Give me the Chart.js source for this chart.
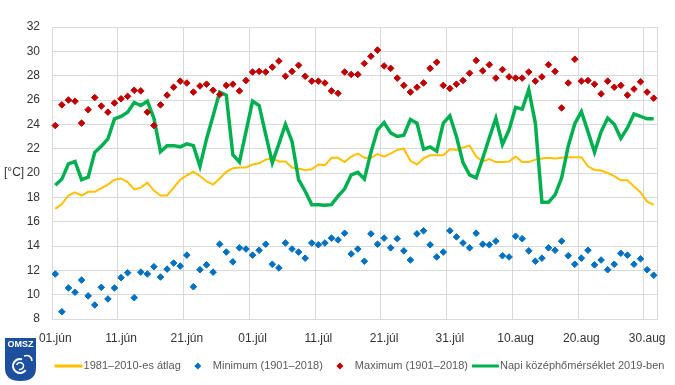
<!DOCTYPE html>
<html>
<head>
<meta charset="utf-8">
<script src="https://cdn.jsdelivr.net/npm/chart.js@4"></script>
<style>
  body { margin: 0; background: #fff; }
</style>
</head>
<body>
<canvas id="chart" width="675" height="385"></canvas>
<script>
// Days June 1 - Aug 31
const months = [['jún', 30], ['júl', 31], ['aug', 31]];
const days = [];
months.forEach(m => {
    for (let d = 1; d <= m[1]; d++) {
        days.push((d < 10 ? '0' + d : '' + d) + '.' + m[0]);
    }
});

// 1981-2010 average
const avgTemp = [17.05, 17.45, 18.15, 18.4, 18.15, 18.45, 18.45, 18.75, 19.05, 19.45,
    19.55, 19.25, 18.65, 18.8, 19.2, 18.55, 18.15, 18.15, 18.8, 19.45,
    19.8, 20.1, 19.75, 19.3, 19.05, 19.55, 20.1,
    20.4, 20.45, 20.45, 20.7, 20.8, 21.1, 21.2, 20.95, 20.95, 20.45,
    20.35, 20.25, 20.3, 20.7, 20.65, 21.25, 21.25, 20.9, 21.35, 21.6,
    21.25, 21.25, 21.55, 21.35, 21.6, 21.9, 22.0, 21.0, 20.7, 21.2,
    21.45, 21.45, 21.45, 21.95,
    21.9, 22.1, 22.25, 21.35, 20.95, 21.15, 20.9, 20.9, 20.95, 21.35,
    20.9, 20.9, 21.1, 21.2, 21.25, 21.2, 21.25, 21.3, 21.3, 21.3,
    20.55, 20.25, 20.2, 20.0, 19.75, 19.4, 19.4, 18.9, 18.4, 17.65, 17.4];

// Minimum 1901-2018
const minTemp = [11.7, 8.6, 10.55, 10.2, 11.2, 9.9, 9.15, 10.6, 9.65, 10.55,
    11.4, 11.8, 9.75, 11.85, 11.7, 12.3, 11.45, 12.1, 12.6, 12.35,
    13.25, 10.65, 12.05, 12.45, 11.85, 14.15, 13.5,
    12.7, 13.85, 13.75, 13.25, 13.65, 14.15, 12.5, 12.2, 14.25, 13.75,
    13.5, 13.0, 14.25, 14.1, 14.25, 14.65, 14.5, 15.05, 13.35, 13.75,
    12.75, 15.0, 14.15, 14.65, 13.85, 14.6, 13.6, 12.85, 15.0, 15.25,
    14.1, 13.1, 13.5, 15.25,
    14.75, 14.25, 13.85, 15.05, 14.15, 14.1, 14.4, 13.2, 13.1, 14.8,
    14.6, 13.6, 12.75, 13.0, 13.85, 13.65, 14.4, 13.2, 12.5, 13.0,
    13.65, 12.45, 12.85, 12.05, 12.5, 13.4, 13.25, 12.5, 12.95, 12.05, 11.6];

// Maximum 1901-2018
const maxTemp = [23.9, 25.6, 26.0, 25.9, 24.1, 25.2, 26.2, 25.5, 25.0, 25.75,
    26.1, 26.3, 26.8, 26.75, 25.0, 23.9, 25.6, 26.4, 27.05, 27.55,
    27.4, 26.65, 27.15, 27.3, 26.8, 26.45, 27.2,
    27.3, 26.75, 27.6, 28.3, 28.35, 28.3, 28.7, 29.2, 27.95, 28.35,
    28.85, 27.95, 27.55, 27.55, 27.4, 26.75, 26.55, 28.3, 28.1, 28.1,
    29.0, 29.6, 30.1, 28.8, 28.6, 27.8, 27.2, 26.65, 27.05, 27.4,
    28.6, 29.1, 27.2, 26.95,
    27.3, 27.6, 28.2, 29.25, 28.4, 28.9, 27.8, 28.5, 27.9, 27.8,
    27.8, 28.3, 27.55, 27.9, 28.9, 28.35, 25.35, 27.4, 29.35, 27.55,
    27.6, 27.3, 26.5, 27.55, 27.05, 27.2, 26.4, 26.9, 27.5, 26.65, 26.15];

// Daily mean 2019
const daily2019 = [19.0, 19.5, 20.75, 20.95, 19.45, 19.65, 21.7, 22.2, 22.8, 24.45,
    24.65, 25.0, 25.8, 25.55, 25.9, 24.5, 21.75, 22.25, 22.25, 22.15,
    22.4, 22.25, 20.55, 22.8, 24.7, 26.65, 26.4,
    21.5, 20.9, 23.4, 25.9, 25.55, 23.15, 20.85, 22.4, 24.0, 22.6,
    19.45, 18.5, 17.4, 17.4, 17.35, 17.4, 18.1, 18.7, 19.85, 20.05,
    19.5, 21.7, 23.55, 24.15, 23.3, 23.0, 23.1, 24.4, 24.1, 21.95,
    22.15, 21.8, 24.1, 24.7,
    23.0, 20.85, 19.85, 19.6, 21.2, 22.9, 24.5, 22.35, 23.55, 25.4,
    25.25, 26.85, 24.1, 17.6, 17.6, 18.2, 19.6, 22.2, 24.05, 25.05,
    23.4, 21.7, 23.4, 24.5, 24.0, 22.85, 23.7, 24.85, 24.65, 24.45, 24.45];

const seriesNames = ['1981–2010-es átlag', 'Minimum (1901–2018)', 'Maximum (1901–2018)', 'Napi középhőmérséklet 2019-ben'];
const seriesColors = ['#ffc000', '#0070c0', '#c00000', '#00b050'];
const unitLabel = '[°C]';

const gridColor = '#d9d9d9';
const textColor = '#333333';
const font = 'Liberation Sans, Arial, sans-serif';

// Legend + unit label + logo
const extras = {
    id: 'extras',
    afterDraw(chart) {
        const ctx = chart.ctx;
        const yScale = chart.scales.y;
        ctx.save();

        // unit label next to the 20 tick
        ctx.font = '12px ' + font;
        ctx.fillStyle = textColor;
        ctx.textAlign = 'left';
        ctx.textBaseline = 'middle';
        ctx.fillText(unitLabel, 4, yScale.getPixelForValue(20));

        // legend
        ctx.font = '11px ' + font;
        const widths = seriesNames.map(n => ctx.measureText(n).width);
        let total = 29 + widths[0];
        for (let i = 1; i < 4; i++) total += 32 + widths[i];
        let x = 359.5 - total / 2;
        const ly = 366;
        seriesNames.forEach((name, i) => {
            const lineItem = (i === 0 || i === 3);
            const off = i === 0 ? 29 : 32;
            const tx = x + off;
            if (lineItem) {
                ctx.strokeStyle = seriesColors[i];
                ctx.lineWidth = 3;
                ctx.beginPath();
                ctx.moveTo(tx - (i === 0 ? 29 : 28), ly);
                ctx.lineTo(tx - 1, ly);
                ctx.stroke();
            } else {
                const cx = tx - 15;
                ctx.fillStyle = seriesColors[i];
                ctx.beginPath();
                ctx.moveTo(cx - 3.5, ly);
                ctx.lineTo(cx, ly - 3.5);
                ctx.lineTo(cx + 3.5, ly);
                ctx.lineTo(cx, ly + 3.5);
                ctx.closePath();
                ctx.fill();
            }
            ctx.fillStyle = '#595959';
            ctx.textAlign = 'left';
            ctx.fillText(name, tx, ly);
            x = tx + widths[i];
        });

        // OMSZ logo
        ctx.fillStyle = '#1d4f9f';
        ctx.beginPath();
        ctx.moveTo(5, 338);
        ctx.lineTo(36, 338);
        ctx.lineTo(36, 368);
        ctx.quadraticCurveTo(36, 381, 20.5, 381);
        ctx.quadraticCurveTo(5, 381, 5, 368);
        ctx.closePath();
        ctx.fill();
        ctx.fillStyle = '#ffffff';
        ctx.font = 'bold 9px ' + font;
        ctx.textAlign = 'center';
        ctx.fillText('OMSZ', 20.5, 345);
        ctx.strokeStyle = '#ffffff';
        ctx.lineWidth = 2;
        ctx.beginPath();
        ctx.arc(20, 366, 7, Math.PI * 0.2, Math.PI * 1.6);
        ctx.stroke();
        ctx.lineWidth = 1.5;
        ctx.beginPath();
        ctx.arc(20, 366, 3.5, Math.PI * 1.1, Math.PI * 2.6);
        ctx.stroke();
        ctx.beginPath();
        ctx.moveTo(24, 356);
        ctx.quadraticCurveTo(31, 354, 32, 361);
        ctx.stroke();
        ctx.restore();
    }
};

const chart = new Chart(document.getElementById('chart').getContext('2d'), {
    data: {
        labels: days,
        datasets: [
            {
                type: 'line',
                label: seriesNames[0],
                data: avgTemp,
                borderColor: seriesColors[0],
                borderWidth: 2,
                pointRadius: 0,
                tension: 0,
                order: 3
            },
            {
                type: 'line',
                label: seriesNames[1],
                data: minTemp,
                showLine: false,
                pointStyle: 'rectRot',
                pointRadius: 3.3,
                pointBorderWidth: 1,
                backgroundColor: seriesColors[1],
                borderColor: seriesColors[1],
                order: 1
            },
            {
                type: 'line',
                label: seriesNames[2],
                data: maxTemp,
                showLine: false,
                pointStyle: 'rectRot',
                pointRadius: 3.3,
                pointBorderWidth: 1,
                backgroundColor: seriesColors[2],
                borderColor: seriesColors[2],
                order: 1
            },
            {
                type: 'line',
                label: seriesNames[3],
                data: daily2019,
                borderColor: seriesColors[3],
                borderWidth: 3.5,
                pointRadius: 0,
                tension: 0,
                order: 2
            }
        ]
    },
    options: {
        responsive: false,
        animation: false,
        layout: { padding: { top: 27, right: 18, left: 0, bottom: 0 } },
        plugins: {
            legend: { display: false },
            tooltip: { enabled: false }
        },
        scales: {
            x: {
                type: 'category',
                offset: true,
                afterFit: s => { s.height = 66; },
                grid: {
                    offset: true,
                    drawTicks: false,
                    color: c => (c.index === undefined || c.index % 10 === 0) ? gridColor : 'rgba(0,0,0,0)'
                },
                border: { color: gridColor },
                ticks: {
                    autoSkip: false,
                    maxRotation: 0,
                    minRotation: 0,
                    padding: 12,
                    color: textColor,
                    font: { family: font, size: 12 },
                    callback: function (val, i) {
                        return i % 10 === 0 ? this.getLabelForValue(val) : '';
                    }
                }
            },
            y: {
                min: 8,
                max: 32,
                afterFit: s => { s.width = 52; },
                grid: { color: gridColor, drawTicks: false },
                border: { color: gridColor },
                ticks: {
                    stepSize: 2,
                    padding: 12,
                    color: textColor,
                    font: { family: font, size: 12 }
                }
            }
        }
    },
    plugins: [extras]
});
</script>
</body>
</html>
